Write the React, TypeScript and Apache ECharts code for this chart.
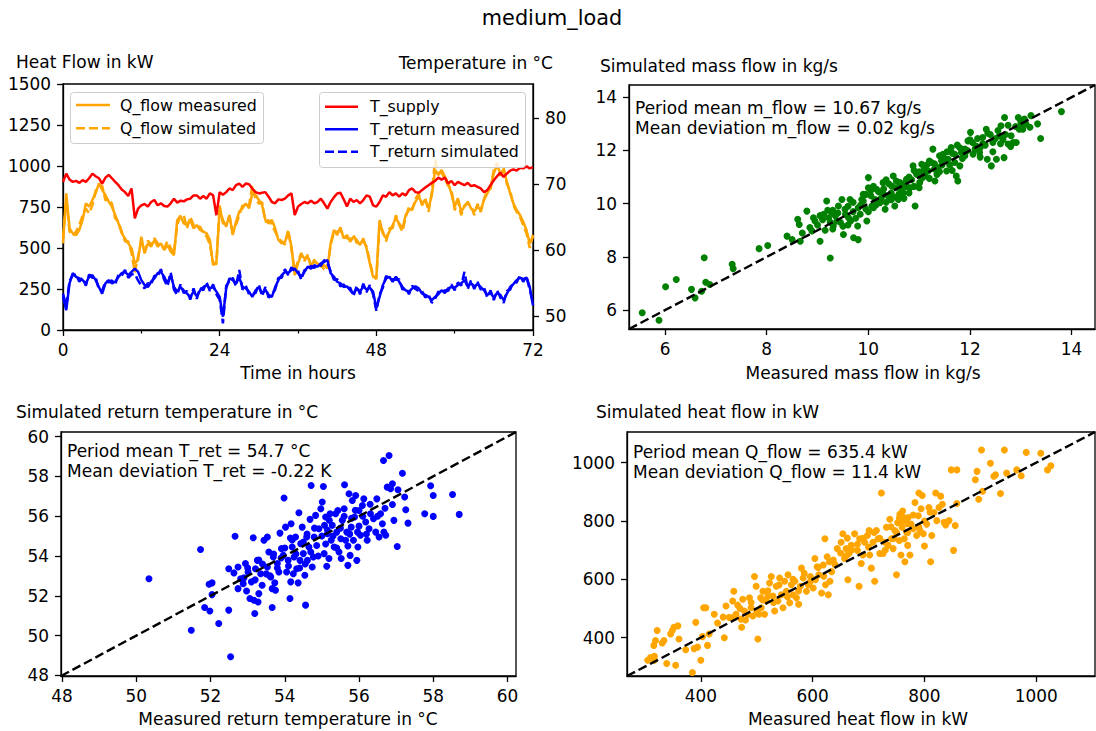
import { useEffect, useRef } from "react";
import * as echarts from "echarts";

// ---------- time series (sample step in hours) ----------
const STEP_H = 0.5;
const TIME_TICKS = [0, 24, 48, 72];

const Q_FLOW_MEASURED = [
  528, 833, 620, 589, 579, 610, 671, 772, 752, 793, 833, 894, 854, 823, 783, 752, 701, 650, 589, 559, 528, 498, 406, 427, 569, 467, 528, 508, 549, 508, 528, 488, 518, 478, 457, 671, 695,
  650, 640, 671, 620, 640, 610, 600, 589, 549, 396, 417, 732, 671, 630, 701, 579, 660, 722, 742, 772, 742, 833, 823, 793, 762, 671, 650, 671, 620, 549, 528, 538, 600, 508, 335, 406,
  457, 437, 447, 396, 417, 406, 386, 396, 376, 528, 610, 579, 626, 559, 579, 538, 569, 549, 518, 559, 498, 406, 325, 320, 671, 589, 559, 600, 640, 681, 650, 620, 701, 732, 742, 783,
  813, 772, 793, 742, 823, 976, 945, 976, 935, 894, 833, 752, 803, 722, 752, 783, 742, 722, 752, 732, 793, 833, 874, 955, 1006, 955, 976, 904, 833, 772, 732, 701, 660, 610, 528, 569,
];
const Q_FLOW_SIMULATED = [
  560, 800, 600, 575, 600, 640, 700, 740, 711, 760, 850, 880, 880, 790, 800, 770, 680, 660, 600, 540, 540, 470, 350, 450, 540, 480, 545, 520, 560, 530, 510, 500, 540, 500, 470, 640, 700,
  700, 620, 690, 640, 620, 630, 590, 570, 520, 410, 400, 760, 650, 650, 690, 600, 640, 700, 760, 750, 760, 880, 800, 770, 780, 660, 670, 640, 600, 560, 540, 520, 610, 490, 360, 420,
  470, 420, 460, 380, 430, 390, 400, 370, 366, 520, 590, 600, 610, 570, 560, 550, 580, 530, 530, 540, 510, 420, 330, 310, 650, 600, 540, 620, 620, 700, 640, 600, 690, 750, 730, 800,
  830, 760, 803, 720, 840, 1036, 960, 960, 920, 880, 860, 730, 790, 700, 760, 770, 760, 700, 770, 720, 800, 850, 860, 980, 1020, 940, 990, 890, 850, 760, 720, 690, 640, 590, 500, 580,
];
const T_SUPPLY = [
  70.35, 71.6, 70.7, 70.35, 70.5, 70.2, 70.6, 70.35, 70.9, 71.6, 71.2, 70.9, 70.1, 71.0, 71.4, 70.9, 70.35, 69.85, 69.2, 68.8, 68.2, 69.35, 64.8, 66.3, 66.8, 67.0, 66.6, 67.3, 67.6, 66.8, 67.1, 66.7, 66.6, 67.1, 67.8, 67.2, 67.5,
  67.4, 67.7, 67.8, 68.3, 68.3, 67.8, 68.2, 67.8, 68.6, 68.3, 65.3, 68.8, 68.4, 68.8, 69.35, 69.1, 69.85, 70.1, 69.6, 70.1, 70.0, 69.35, 68.8, 68.6, 68.7, 68.8, 68.1, 67.3, 67.1, 67.7, 67.6, 67.8, 68.3, 68.6, 65.3, 66.6,
  67.0, 67.3, 67.1, 67.5, 67.1, 67.3, 67.8, 67.1, 66.3, 67.3, 68.0, 68.6, 68.7, 67.7, 66.6, 67.8, 67.3, 67.6, 67.1, 67.6, 68.3, 68.1, 66.8, 66.6, 67.3, 68.3, 68.1, 68.8, 68.3, 68.6, 68.1, 68.6, 68.3, 69.1, 69.35, 68.8,
  68.7, 69.1, 69.5, 69.85, 70.2, 70.5, 71.0, 70.7, 71.0, 70.1, 70.5, 69.85, 70.35, 70.1, 69.85, 70.2, 69.7, 69.85, 69.6, 69.35, 68.8, 69.1, 69.85, 70.6, 71.2, 71.75, 71.1, 71.6, 72.05, 72.25, 72.05, 72.5, 72.4, 72.7, 72.4, 72.6,
];
const T_RETURN_MEASURED = [
  52.9, 50.9, 54.95, 56.5, 55.95, 55.7, 55.45, 54.95, 55.95, 56.2, 55.45, 54.4, 53.4, 54.95, 55.45, 54.95, 55.2, 55.95, 56.5, 56.7, 56.2, 56.7, 57.2, 56.7, 55.45, 54.7, 54.4, 55.2, 55.7, 56.5, 56.7, 55.95, 54.95, 56.2, 54.4, 53.7, 54.4,
  53.9, 53.4, 52.9, 53.7, 53.0, 53.9, 54.4, 54.7, 54.2, 54.4, 53.7, 52.9, 49.9, 54.2, 55.7, 55.45, 54.95, 55.85, 54.4, 54.2, 53.7, 52.9, 53.9, 54.4, 53.4, 54.0, 53.2, 52.9, 54.4, 55.45, 56.2, 56.7, 56.5, 57.0, 57.2, 56.5,
  55.95, 56.7, 57.5, 57.2, 57.7, 57.5, 58.0, 58.2, 58.5, 56.5, 55.95, 55.2, 54.95, 54.4, 54.5, 53.9, 53.4, 54.2, 53.7, 54.5, 54.0, 54.3, 53.7, 51.2, 52.9, 54.7, 55.7, 55.95, 55.2, 55.95, 55.2, 54.4, 53.9, 53.7, 54.2, 54.5,
  54.2, 53.4, 53.2, 52.9, 52.4, 52.9, 53.3, 53.9, 53.5, 54.2, 54.4, 54.3, 54.7, 54.95, 55.45, 54.5, 55.0, 54.5, 54.85, 54.4, 53.9, 53.2, 53.5, 52.8, 53.5, 53.2, 52.4, 53.4, 54.4, 54.85, 55.45, 55.85, 55.55, 55.85, 54.4, 51.6,
];
const T_RETURN_SIMULATED = [
  53.4, 51.5, 55.3, 56.2, 56.3, 55.2, 55.8, 54.6, 56.3, 55.8, 55.9, 54.0, 53.8, 55.3, 55.1, 55.4, 54.8, 56.3, 56.1, 57.0, 55.8, 56.3, 56.4, 55.4, 54.6, 54.2, 55.0, 54.8, 56.1, 56.0, 57.1, 55.5, 54.5, 56.6, 54.0, 53.2, 54.8,
  53.5, 53.8, 52.5, 54.2, 52.6, 54.3, 53.9, 55.1, 53.8, 54.8, 53.3, 52.5, 48.9, 54.6, 55.3, 55.8, 54.5, 57.0, 54.0, 54.6, 53.3, 53.3, 53.5, 54.8, 53.0, 54.4, 52.8, 53.3, 54.0, 55.8, 55.8, 57.1, 56.2, 57.4, 56.8, 56.9,
  55.5, 57.0, 57.1, 57.6, 57.3, 57.8, 57.6, 58.5, 58.1, 56.8, 55.5, 55.6, 54.5, 54.8, 54.1, 54.3, 53.0, 54.6, 53.3, 54.9, 53.6, 54.7, 53.3, 50.8, 53.3, 54.3, 56.1, 55.5, 55.6, 55.5, 55.6, 54.0, 54.3, 53.3, 54.6, 54.1,
  53.8, 53.8, 52.8, 53.3, 52.0, 52.6, 53.7, 53.5, 53.9, 53.8, 54.8, 53.9, 55.1, 54.6, 56.7, 54.1, 55.4, 54.1, 55.2, 54.0, 54.3, 52.8, 53.9, 52.4, 53.9, 52.8, 52.0, 53.8, 54.0, 55.2, 55.1, 56.2, 55.2, 56.0, 54.0, 52.0,
];

// ---------- scatter: [measured, simulated] ----------
const MASS_FLOW_POINTS = [
  [5.55, 5.9], [5.88, 5.62], [6.01, 6.88], [6.22, 7.15], [6.52, 6.78], [6.59, 6.46], [6.72, 6.71], [6.77, 7.97], [6.8, 7.05], [6.88, 6.96],
  [7.32, 7.72], [7.34, 7.56], [7.85, 8.31], [8.02, 8.43], [8.4, 8.78], [8.5, 8.65], [8.66, 8.59], [8.61, 9.41], [8.64, 9.22], [8.79, 9.72],
  [8.89, 8.97], [8.92, 9.47], [9.05, 8.59], [9.18, 10.1], [9.12, 9.6], [9.22, 9.47], [9.28, 9.66], [9.31, 9.16], [9.38, 9.35], [9.41, 9.91],
  [9.48, 10.16], [9.51, 8.84], [9.54, 9.79], [9.61, 9.47], [9.64, 10.16], [9.71, 8.72], [9.8, 8.65], [9.79, 9.16], [9.84, 9.6], [9.87, 10.16],
  [9.9, 10.35], [9.97, 9.35], [10.0, 10.98], [10.07, 9.91], [10.13, 10.16], [10.16, 10.54], [10.23, 10.04], [10.29, 10.79], [10.33, 9.79], [10.39, 10.29],
  [10.46, 10.66], [10.49, 11.04], [10.52, 9.91], [10.59, 10.16], [10.62, 10.79], [10.69, 10.41], [10.75, 10.92], [10.82, 10.6], [10.88, 11.42], [10.92, 9.91],
  [10.95, 11.11], [11.01, 10.79], [11.05, 11.48], [11.11, 11.04], [11.18, 11.23], [11.24, 11.55], [11.27, 12.05], [11.31, 10.85], [11.37, 11.36], [11.44, 11.61],
  [11.47, 11.86], [11.54, 11.23], [11.57, 11.67], [11.63, 12.11], [11.7, 11.86], [11.73, 11.04], [11.76, 10.85], [11.8, 11.42], [11.83, 11.92], [11.9, 12.05],
  [11.96, 12.36], [12.01, 12.68], [12.06, 11.86], [12.12, 12.17], [12.19, 11.92], [12.25, 12.49], [12.32, 12.8], [12.34, 11.67], [12.42, 11.42], [12.45, 12.3],
  [12.52, 11.67], [12.58, 12.55], [12.61, 12.93], [12.67, 11.73], [12.68, 13.24], [12.75, 12.24], [12.81, 12.55], [12.91, 12.3], [12.95, 13.24], [12.97, 12.8],
  [13.04, 12.8], [13.07, 13.18], [13.2, 13.31], [13.18, 12.87], [13.33, 13.0], [13.39, 12.45], [13.8, 13.46], [9.25, 7.96],
  [9.0, 9.2], [9.1, 9.4], [9.15, 9.0], [9.25, 9.3], [9.35, 9.55], [9.45, 9.3], [9.55, 9.6], [9.6, 9.9], [9.7, 9.7], [9.75, 9.45],
  [9.85, 9.95], [9.95, 9.8], [10.05, 10.3], [10.1, 9.85], [10.2, 10.45], [10.25, 10.2], [10.3, 10.55], [10.35, 10.05], [10.45, 10.4], [10.55, 10.6],
  [10.6, 10.35], [10.7, 10.75], [10.8, 10.4], [10.85, 10.9], [10.9, 10.65], [11.0, 11.2], [11.05, 10.95], [11.15, 11.45], [11.2, 10.95], [11.3, 11.5],
  [11.4, 11.2], [11.5, 11.7], [11.6, 11.45], [11.65, 11.9], [11.75, 12.2], [11.85, 11.7], [11.95, 12.0], [12.05, 12.3], [12.15, 12.45], [12.2, 12.1],
  [12.3, 12.2], [12.4, 12.6], [12.5, 12.45], [12.6, 12.25], [12.7, 12.6], [12.85, 12.3], [12.9, 12.9], [13.0, 13.1], [10.0, 10.6], [9.95, 10.35],
  [10.15, 9.95], [10.5, 10.25], [10.75, 10.65], [11.1, 11.3], [11.35, 11.1],
  [8.7, 8.9], [8.85, 9.1], [8.95, 9.35], [9.05, 9.55], [9.2, 9.75], [9.3, 9.05], [9.4, 9.65], [9.5, 9.15], [9.65, 9.35], [9.7, 10.05],
  [9.8, 9.85], [9.9, 10.1], [10.0, 9.7], [10.1, 10.65], [10.2, 10.1], [10.3, 10.35], [10.4, 10.75], [10.45, 10.15], [10.55, 10.85], [10.65, 10.55],
  [10.7, 10.2], [10.8, 11.0], [10.9, 11.25], [11.0, 10.6], [11.1, 11.15], [11.2, 11.6], [11.3, 11.3], [11.4, 11.8], [11.45, 11.45], [11.55, 11.95],
  [11.7, 11.55], [11.8, 12.1], [11.9, 11.8], [12.0, 12.4], [12.1, 12.05], [12.25, 12.25], [12.35, 12.65], [12.45, 11.95], [12.55, 12.75], [12.65, 12.4],
  [12.75, 12.95], [12.8, 12.15], [13.0, 12.95], [13.1, 13.0], [12.2, 11.75], [11.65, 11.25], [10.35, 10.9], [9.6, 9.2], [9.3, 9.75], [10.05, 10.5],
];
const RETURN_TEMP_POINTS = [
  [50.34, 52.86], [51.73, 54.33], [51.48, 50.27], [51.84, 51.41], [51.98, 51.24], [51.96, 52.58], [52.04, 52.65], [52.04, 52.06], [52.22, 50.61], [52.49, 51.28],
  [52.54, 48.94], [52.49, 53.36], [52.63, 53.15], [52.66, 54.99], [52.74, 53.45], [52.74, 52.36], [52.81, 52.86], [52.88, 52.61], [52.94, 53.62], [52.97, 52.24],
  [53.01, 53.2], [53.06, 51.86], [53.1, 52.7], [53.15, 54.92], [53.17, 51.78], [53.19, 51.11], [53.21, 53.36], [53.26, 53.78], [53.28, 51.69], [53.3, 52.11],
  [53.35, 53.11], [53.39, 52.53], [53.44, 54.79], [53.53, 54.95], [53.53, 53.45], [53.57, 54.2], [53.62, 52.95], [53.66, 52.36], [53.66, 51.41], [53.69, 53.95],
  [53.73, 52.65], [53.75, 52.28], [53.8, 53.62], [53.84, 53.2], [53.87, 55.15], [53.91, 54.37], [53.96, 54.03], [53.98, 56.91], [54.02, 55.45], [54.05, 53.2],
  [54.09, 53.78], [54.14, 51.86], [54.16, 52.7], [54.17, 55.62], [54.2, 54.45], [54.23, 53.11], [54.25, 53.95], [54.29, 54.95], [54.32, 53.36], [54.36, 52.65],
  [54.38, 56.17], [54.41, 53.78], [54.43, 54.62], [54.47, 55.45], [54.5, 54.12], [54.54, 53.03], [54.56, 51.53], [54.59, 54.95], [54.61, 53.78], [54.65, 54.45],
  [54.68, 55.84], [54.71, 57.54], [54.74, 53.45], [54.77, 53.95], [54.79, 54.95], [54.83, 56.04], [54.86, 54.53], [54.92, 55.37], [54.97, 56.37], [55.01, 56.71],
  [55.04, 57.49], [55.06, 54.12], [55.07, 55.54], [55.1, 55.96], [55.13, 53.48], [55.15, 55.12], [55.19, 53.87], [55.22, 56.12], [55.25, 54.79], [55.28, 55.54],
  [55.33, 54.45], [55.37, 56.12], [55.4, 55.2], [55.43, 56.29], [55.46, 54.2], [55.51, 54.87], [55.52, 53.87], [55.55, 55.79], [55.6, 56.37], [55.61, 57.58],
  [55.64, 54.79], [55.67, 55.2], [55.7, 53.53], [55.73, 57.13], [55.76, 54.03], [55.79, 55.45], [55.82, 56.79], [55.85, 54.79], [55.88, 55.96], [55.91, 57.04],
  [55.94, 53.78], [55.96, 55.2], [55.97, 54.45], [56.0, 56.29], [56.04, 55.04], [56.09, 56.54], [56.13, 56.87], [56.18, 55.71], [56.22, 54.79], [56.27, 55.37],
  [56.31, 56.12], [56.39, 55.87], [56.45, 55.2], [56.48, 56.87], [56.54, 54.95], [56.58, 56.12], [56.63, 55.62], [56.66, 58.8], [56.67, 55.2], [56.72, 55.04],
  [56.76, 57.46], [56.81, 59.05], [56.85, 57.38], [56.9, 57.63], [56.9, 56.59], [56.94, 55.79], [57.03, 54.48], [57.05, 57.33], [57.17, 58.16], [57.23, 56.96],
  [57.26, 56.32], [57.32, 55.65], [57.77, 56.12], [57.93, 57.53], [58.0, 57.04], [58.0, 55.99], [58.52, 57.09], [58.7, 56.09],
  [53.0, 53.4], [53.2, 52.8], [53.4, 53.6], [53.5, 53.1], [53.7, 54.1], [53.8, 53.4], [53.9, 53.9], [54.0, 54.4], [54.1, 53.5], [54.2, 54.8],
  [54.3, 54.1], [54.4, 53.4], [54.5, 54.7], [54.6, 55.1], [54.7, 54.2], [54.8, 55.4], [54.9, 54.0], [55.0, 55.0], [55.1, 54.6], [55.2, 55.8],
  [55.3, 55.0], [55.4, 54.4], [55.5, 55.4], [55.6, 56.0], [55.7, 54.5], [55.8, 55.9], [55.9, 56.3], [56.0, 55.5], [56.1, 56.0], [56.2, 55.1],
  [56.3, 56.6], [56.5, 56.0], [56.7, 56.4], [53.6, 53.0], [53.3, 53.8], [52.9, 52.9], [54.15, 54.9], [54.55, 53.6], [55.15, 55.3], [55.75, 55.1],
];
const HEAT_FLOW_POINTS = [
  [305, 322], [310, 331], [317, 336], [316, 373], [319, 390], [317, 322], [322, 424], [331, 381], [334, 390], [339, 311],
  [346, 412], [349, 424], [352, 435], [355, 305], [359, 440], [361, 395], [373, 358], [385, 280], [388, 362], [391, 452],
  [394, 367], [400, 322], [403, 403], [405, 502], [409, 502], [412, 373], [415, 412], [424, 480], [442, 399], [445, 508],
  [451, 469], [457, 525], [459, 559], [463, 480], [466, 511], [472, 463], [473, 435], [475, 531], [478, 491], [484, 480],
  [487, 536], [490, 502], [493, 474], [496, 609], [499, 576], [502, 395], [504, 480], [507, 536], [508, 502], [511, 559],
  [514, 480], [517, 525], [520, 542], [523, 587], [526, 609], [529, 542], [532, 491], [535, 576], [538, 525], [541, 604],
  [544, 547], [547, 502], [550, 593], [553, 559], [556, 615], [559, 519], [562, 581], [565, 547], [568, 593], [571, 536],
  [575, 514], [578, 576], [580, 638], [583, 604], [589, 559], [592, 581], [596, 609], [601, 570], [604, 671], [605, 598],
  [608, 643], [611, 615], [616, 553], [619, 649], [622, 739], [623, 581], [626, 677], [628, 547], [631, 593], [634, 626],
  [637, 666], [644, 705], [651, 727], [654, 756], [657, 671], [660, 705], [662, 741], [663, 598], [665, 688], [669, 716],
  [675, 756], [680, 699], [683, 576], [684, 739], [687, 654], [690, 683], [693, 727], [698, 750], [701, 767], [702, 683],
  [705, 638], [708, 727], [711, 593], [714, 767], [717, 739], [720, 688], [723, 896], [726, 688], [729, 727], [732, 778],
  [735, 716], [738, 806], [741, 739], [744, 705], [747, 767], [750, 615], [752, 794], [755, 733], [756, 823], [758, 683],
  [760, 778], [761, 834], [763, 812], [764, 739], [765, 660], [767, 801], [768, 761], [770, 716], [771, 812], [774, 683],
  [776, 789], [780, 773], [783, 863], [786, 750], [789, 818], [790, 896], [792, 767], [794, 842], [796, 887], [798, 756],
  [800, 714], [804, 789], [808, 846], [811, 660], [813, 750], [817, 829], [820, 896], [822, 801], [826, 846], [829, 885],
  [832, 857], [835, 795], [838, 786], [844, 801], [848, 975], [852, 699], [855, 784], [858, 860], [858, 975], [891, 941],
  [894, 970], [897, 874], [902, 1043], [904, 902], [918, 998], [924, 953], [927, 958], [936, 894], [943, 1043], [947, 964],
  [965, 975], [973, 955], [982, 1035], [1008, 1032], [1020, 975], [1026, 989],
  [520, 560], [530, 520], [540, 580], [555, 540], [565, 600], [575, 560], [585, 620], [595, 590], [610, 640], [620, 610],
  [630, 660], [640, 650], [650, 690], [660, 680], [670, 700], [680, 720], [690, 740], [700, 710], [710, 760], [720, 740],
  [730, 700], [740, 780], [750, 760], [760, 800], [770, 790], [780, 820], [790, 780], [800, 800], [810, 830], [460, 470],
  [470, 500], [480, 460], [490, 520], [500, 490], [510, 530], [430, 450], [440, 470], [770, 760], [755, 810], [745, 740],
];

// axis ranges and tick labels
const MASS_RANGE = [5.29, 14.46];
const MASS_TICKS = [6, 8, 10, 12, 14];
const TRET_RANGE = [47.97, 60.23];
const TRET_TICKS = [48, 50, 52, 54, 56, 58, 60];
const QS_RANGE = [268, 1105];
const QS_TICKS = [400, 600, 800, 1000];
const TEMP_AXIS_RANGE = [47.88, 85.2];
const TEMP_TICKS = [50, 60, 70, 80];

const FONT = "DejaVu Sans";
const FS_TICK = 16.9;
const FS_TEXT = 17.0;
const FS_LEGEND = 15.8;
const ORANGE = "#FFA500";
const RED = "#FF0000";
const BLUE = "#0000FF";
const GREEN = "#008000";
const DASH = [9, 4];

function axisCommon(extra: any = {}) {
  return {
    splitLine: { show: false },
    axisLine: { show: true, onZero: false, lineStyle: { color: "#000", width: 1.3 } },
    axisTick: { show: true, length: 6, lineStyle: { color: "#000", width: 1.3 }, ...(extra.tick || {}) },
    axisLabel: {
      color: "#000",
      fontSize: FS_TICK,
      fontFamily: FONT,
      margin: 11,
      formatter: (v: number) => String(v),
      ...(extra.label || {}),
    },
  };
}

function ts(arr: number[]) {
  return arr.map((v, i) => [i * STEP_H, v]);
}

function txt(x: number, y: number, text: string, align = "left", size = FS_TEXT) {
  return {
    type: "text",
    x,
    y,
    z: 200,
    style: {
      text,
      fill: "#000",
      font: `${size}px "${FONT}"`,
      textAlign: align,
      textVerticalAlign: "middle",
    },
  };
}

function legendLine(x1: number, x2: number, y: number, color: string, dashed: boolean) {
  return {
    type: "line",
    z: 151,
    shape: { x1, y1: y, x2, y2: y },
    style: { stroke: color, lineWidth: 2.5, lineDash: dashed ? DASH : null },
  };
}

export default function App() {
  const ref = useRef<HTMLDivElement>(null);
  useEffect(() => {
    if (!ref.current) return;
    const chart = echarts.init(ref.current, null, { renderer: "svg" });
    const gridStyle = { show: true, borderColor: "#000", borderWidth: 1.3, backgroundColor: "transparent" };
    const option: any = {
      animation: false,
      textStyle: { fontFamily: FONT },
      grid: [
        { left: 63, top: 84, width: 470, height: 246, ...gridStyle },
        { left: 629, top: 85, width: 466, height: 244, ...gridStyle },
        { left: 61, top: 432, width: 455, height: 244, ...gridStyle },
        { left: 627, top: 432, width: 468, height: 244, ...gridStyle },
      ],
      xAxis: [
        {
          gridIndex: 0, type: "value", min: TIME_TICKS[0], max: TIME_TICKS[TIME_TICKS.length - 1], interval: 24,
          ...axisCommon(),
          minorTick: { show: true, splitNumber: 2, length: 3.5, lineStyle: { color: "#000", width: 1.2 } },
          minorSplitLine: { show: false },
        },
        {
          gridIndex: 1, type: "value", min: MASS_RANGE[0], max: MASS_RANGE[1],
          ...axisCommon({ tick: { customValues: MASS_TICKS }, label: { customValues: MASS_TICKS } }),
        },
        {
          gridIndex: 2, type: "value", min: TRET_RANGE[0], max: TRET_RANGE[1],
          ...axisCommon({ tick: { customValues: TRET_TICKS }, label: { customValues: TRET_TICKS } }),
        },
        {
          gridIndex: 3, type: "value", min: QS_RANGE[0], max: QS_RANGE[1],
          ...axisCommon({ tick: { customValues: QS_TICKS }, label: { customValues: QS_TICKS } }),
        },
      ],
      yAxis: [
        { gridIndex: 0, type: "value", min: 0, max: 1500, interval: 250, position: "left", ...axisCommon({ label: { margin: 12 } }) },
        {
          gridIndex: 0, type: "value", min: TEMP_AXIS_RANGE[0], max: TEMP_AXIS_RANGE[1], position: "right",
          ...axisCommon({ tick: { customValues: TEMP_TICKS }, label: { customValues: TEMP_TICKS, margin: 12 } }),
        },
        {
          gridIndex: 1, type: "value", min: MASS_RANGE[0], max: MASS_RANGE[1],
          ...axisCommon({ tick: { customValues: MASS_TICKS }, label: { customValues: MASS_TICKS, margin: 12 } }),
        },
        {
          gridIndex: 2, type: "value", min: TRET_RANGE[0], max: TRET_RANGE[1],
          ...axisCommon({ tick: { customValues: TRET_TICKS }, label: { customValues: TRET_TICKS, margin: 12 } }),
        },
        {
          gridIndex: 3, type: "value", min: QS_RANGE[0], max: QS_RANGE[1],
          ...axisCommon({ tick: { customValues: QS_TICKS }, label: { customValues: QS_TICKS, margin: 12 } }),
        },
      ],
      series: [
        { name: "Q_flow measured", type: "line", xAxisIndex: 0, yAxisIndex: 0, data: ts(Q_FLOW_MEASURED), showSymbol: false, symbol: "none", lineStyle: { color: ORANGE, width: 2.5 }, itemStyle: { color: ORANGE }, z: 2 },
        { name: "Q_flow simulated", type: "line", xAxisIndex: 0, yAxisIndex: 0, data: ts(Q_FLOW_SIMULATED), showSymbol: false, symbol: "none", lineStyle: { color: ORANGE, width: 2.5, type: DASH }, itemStyle: { color: ORANGE }, z: 2 },
        { name: "T_supply", type: "line", xAxisIndex: 0, yAxisIndex: 1, data: ts(T_SUPPLY), showSymbol: false, symbol: "none", lineStyle: { color: RED, width: 2.5 }, itemStyle: { color: RED }, z: 3 },
        { name: "T_return measured", type: "line", xAxisIndex: 0, yAxisIndex: 1, data: ts(T_RETURN_MEASURED), showSymbol: false, symbol: "none", lineStyle: { color: BLUE, width: 2.5 }, itemStyle: { color: BLUE }, z: 3 },
        { name: "T_return simulated", type: "line", xAxisIndex: 0, yAxisIndex: 1, data: ts(T_RETURN_SIMULATED), showSymbol: false, symbol: "none", lineStyle: { color: BLUE, width: 2.5, type: DASH }, itemStyle: { color: BLUE }, z: 3 },

        { type: "scatter", xAxisIndex: 1, yAxisIndex: 2, data: MASS_FLOW_POINTS, symbolSize: 7, itemStyle: { color: GREEN, opacity: 1 }, z: 2 },
        { type: "line", xAxisIndex: 1, yAxisIndex: 2, data: [[MASS_RANGE[0], MASS_RANGE[0]], [MASS_RANGE[1], MASS_RANGE[1]]], showSymbol: false, symbol: "none", lineStyle: { color: "#000", width: 2.4, type: DASH }, z: 4 },

        { type: "scatter", xAxisIndex: 2, yAxisIndex: 3, data: RETURN_TEMP_POINTS, symbolSize: 7, itemStyle: { color: BLUE, opacity: 1 }, z: 2 },
        { type: "line", xAxisIndex: 2, yAxisIndex: 3, data: [[TRET_RANGE[0], TRET_RANGE[0]], [TRET_RANGE[1], TRET_RANGE[1]]], showSymbol: false, symbol: "none", lineStyle: { color: "#000", width: 2.4, type: DASH }, z: 4 },

        { type: "scatter", xAxisIndex: 3, yAxisIndex: 4, data: HEAT_FLOW_POINTS, symbolSize: 7, itemStyle: { color: ORANGE, opacity: 1 }, z: 2 },
        { type: "line", xAxisIndex: 3, yAxisIndex: 4, data: [[QS_RANGE[0], QS_RANGE[0]], [QS_RANGE[1], QS_RANGE[1]]], showSymbol: false, symbol: "none", lineStyle: { color: "#000", width: 2.4, type: DASH }, z: 4 },
      ],
      graphic: [
        txt(552, 18, "medium_load", "center", 20.8),
        txt(16, 62, "Heat Flow in kW"),
        txt(553, 63, "Temperature in °C", "right"),
        txt(600, 66, "Simulated mass flow in kg/s"),
        txt(16, 412, "Simulated return temperature in °C"),
        txt(596, 412, "Simulated heat flow in kW"),
        txt(298, 373, "Time in hours", "center"),
        txt(863, 373, "Measured mass flow in kg/s", "center"),
        txt(288, 719, "Measured return temperature in °C", "center"),
        txt(858, 719, "Measured heat flow in kW", "center"),

        txt(635, 108, "Period mean m_flow = 10.67 kg/s"),
        txt(635, 128, "Mean deviation m_flow = 0.02 kg/s"),
        txt(67, 451, "Period mean T_ret = 54.7 °C"),
        txt(67, 470.5, "Mean deviation T_ret = -0.22 K"),
        txt(633, 452, "Period mean Q_flow = 635.4 kW"),
        txt(633, 471.5, "Mean deviation Q_flow = 11.4 kW"),

        // legend 1
        { type: "rect", z: 150, shape: { x: 70.5, y: 92.5, width: 193, height: 51, r: 3 }, style: { fill: "rgba(255,255,255,0.8)", stroke: "#cccccc", lineWidth: 1 } },
        legendLine(76, 110, 105, ORANGE, false),
        legendLine(76, 110, 128.3, ORANGE, true),
        txt(120, 105, "Q_flow measured", "left", FS_LEGEND),
        txt(120, 128.3, "Q_flow simulated", "left", FS_LEGEND),
        // legend 2
        { type: "rect", z: 150, shape: { x: 319.5, y: 92.5, width: 206, height: 75, r: 3 }, style: { fill: "rgba(255,255,255,0.8)", stroke: "#cccccc", lineWidth: 1 } },
        legendLine(325, 358, 106.7, RED, false),
        legendLine(325, 358, 129.3, BLUE, false),
        legendLine(325, 358, 151.7, BLUE, true),
        txt(370, 106.7, "T_supply", "left", FS_LEGEND),
        txt(370, 129.3, "T_return measured", "left", FS_LEGEND),
        txt(370, 151.7, "T_return simulated", "left", FS_LEGEND),
      ],
    };
    chart.setOption(option);
    return () => chart.dispose();
  }, []);
  return (
    <div
      ref={ref}
      style={{ position: "fixed", left: 0, top: 0, width: 1096, height: 731, background: "#fff" }}
    />
  );
}
